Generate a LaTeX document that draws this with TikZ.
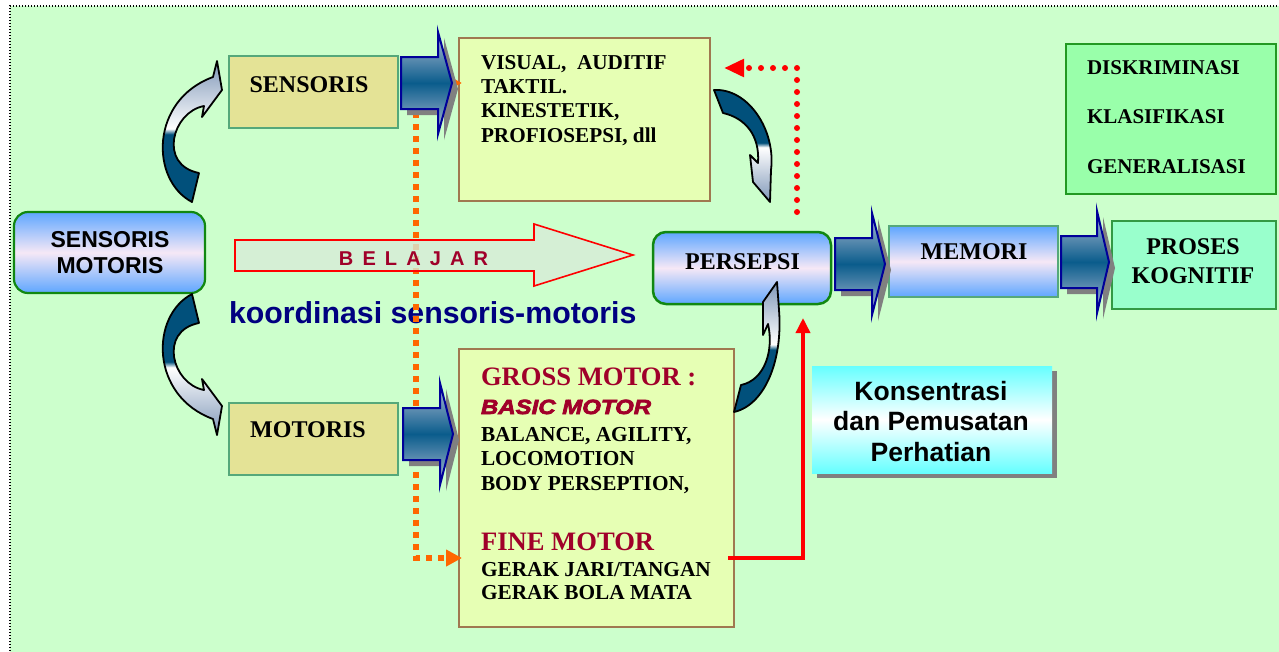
\documentclass[tikz,border=0pt]{standalone}
\usepackage{fontspec}
\setmainfont{Liberation Serif}
\setsansfont{Liberation Sans}
\newfontfamily\blkfont{Liberation Sans}[BoldItalicFeatures={FakeBold=3.5,FakeStretch=1.17}]
\usetikzlibrary{arrows.meta,calc}

\definecolor{bgc}{HTML}{CCFFCC}
\definecolor{khakif}{HTML}{E4E396}
\definecolor{tealgr}{HTML}{55A87A}
\definecolor{yelf}{HTML}{E6FFB4}
\definecolor{brownb}{HTML}{A07850}
\definecolor{diskf}{HTML}{99FFAA}
\definecolor{diskb}{HTML}{229922}
\definecolor{prosf}{HTML}{99FFCC}
\definecolor{prosb}{HTML}{339944}
\definecolor{dgreen}{HTML}{118811}
\definecolor{bluebx}{HTML}{5EA6FF}
\definecolor{pinkw}{HTML}{F6E8F6}
\definecolor{stlc}{HTML}{B4C0D6}
\definecolor{tealdk}{HTML}{0A5C8C}
\definecolor{navyb}{HTML}{000099}
\definecolor{shadc}{HTML}{808080}
\definecolor{darkc}{HTML}{01507B}
\definecolor{steelc}{HTML}{7F97B8}
\definecolor{dred}{HTML}{A0002A}
\definecolor{navyt}{HTML}{000080}
\definecolor{orangec}{HTML}{FF6600}
\definecolor{cyanb}{HTML}{66FFFF}
\definecolor{belf}{HTML}{D8ECD8}

\pgfdeclareverticalshading{cvsh}{100bp}{color(0bp)=(steelc); color(25bp)=(steelc); color(49bp)=(white); color(51bp)=(darkc); color(100bp)=(darkc)}

\newcommand\lnl[1]{\begin{tabular}[t]{@{}l@{}}#1\end{tabular}}
\newcommand\lnc[1]{\begin{tabular}[t]{@{}c@{}}#1\end{tabular}}
\newcommand\lsp{\hspace{9.1pt}}

\newcommand\blkarr[4]{%
 \begin{scope}[shift={(6,6)}]
  \fill[shadc] (#1,{#4-26}) -- (#2,{#4-26}) -- (#2,{#4-51}) -- (#3,#4) -- (#2,{#4+51}) -- (#2,{#4+26}) -- (#1,{#4+26}) -- cycle;
 \end{scope}
 \shadedraw[barrow] (#1,{#4-26}) -- (#2,{#4-26}) -- (#2,{#4-51}) -- (#3,#4) -- (#2,{#4+51}) -- (#2,{#4+26}) -- (#1,{#4+26}) -- cycle;}

\tikzset{
 every node/.style={inner sep=0pt, outer sep=0pt},
 sbox/.style={draw=tealgr, line width=2pt, fill=khakif},
 ybox/.style={draw=brownb, line width=2pt, fill=yelf},
 bgrad/.style={top color=bluebx, bottom color=bluebx, middle color=pinkw},
 barrow/.style={top color=stlc, bottom color=stlc, middle color=tealdk, draw=navyb, line width=2pt, line join=miter},
 curv/.style={shading=cvsh, draw=black, line width=1.8pt, line join=round},
 serb/.style={font=\fontsize{24}{28}\selectfont\bfseries, text=black},
 lst/.style={font=\fontsize{21.2}{24.4}\selectfont\bfseries, text=black},
 redtitle/.style={font=\fontsize{26.6}{30}\selectfont\bfseries, text=dred},
 orgdash/.style={draw=orangec, line width=6pt, dash pattern=on 6pt off 6pt},
 reddot/.style={draw=red, line width=6pt, line cap=round, dash pattern=on 0pt off 12pt},
}

\begin{document}
\begin{tikzpicture}[x=1pt,y=-1pt]
\useasboundingbox (0,0) rectangle (1279,651);
\clip (0,0) rectangle (1279,651);
\fill[white] (0,0) rectangle (1279,651);
\fill[bgc] (10,6) rectangle (1290,660);
\draw[black, line width=1.3pt, dash pattern=on 1.3pt off 1.7pt] (10,660) -- (10,6) -- (1290,6);

% boxes
\node[draw=dgreen, line width=2.2pt, rounded corners=14pt, bgrad, minimum width=191pt, minimum height=81pt] (sm) at (109.5,252.5) {};
\node[sbox, minimum width=169pt, minimum height=72pt] (sens) at (313.5,92) {};
\node[sbox, minimum width=169pt, minimum height=72pt] (mot) at (313.5,439) {};
\node[ybox, minimum width=251pt, minimum height=163pt] (visual) at (584.5,119.5) {};
\node[ybox, minimum width=275pt, minimum height=278pt] (gross) at (596.5,488) {};
\node[draw=dgreen, line width=2.5pt, rounded corners=13pt, bgrad, minimum width=178pt, minimum height=72pt] (pers) at (742,268) {};
\node[draw=tealgr, line width=2pt, bgrad, minimum width=169pt, minimum height=71pt] (mem) at (973.5,261.5) {};
\node[draw=prosb, line width=2.5pt, fill=prosf, minimum width=164pt, minimum height=88pt] (pros) at (1194,265) {};
\node[draw=diskb, line width=2.5pt, fill=diskf, minimum width=210pt, minimum height=150pt] (disk) at (1171,119) {};
\fill[shadc] (817,371) rectangle (1057,478);
\node[top color=cyanb, bottom color=cyanb, middle color=white, minimum width=240pt, minimum height=107pt] (kons) at (932,419.5) {};

% koordinasi text
\node[anchor=base west, font=\sffamily\bfseries\fontsize{30.3}{34}\selectfont, text=navyt] (koord) at (229,323) {koordinasi sensoris-motoris};

% orange dotted connector
\coordinate (otop) at (462,83);
\coordinate (obot) at (462,558);
\draw[orgdash, {Triangle[width=16pt,length=16pt]}-{Triangle[width=16pt,length=16pt]}] (otop) -- (416,83) -- (416,558) -- (obot);

% BELAJAR arrow
\path[draw=red, line width=1.6pt, fill=belf, fill opacity=0.8] (235,240) -- (534,240) -- (534,224) -- (633,255) -- (534,286) -- (534,271) -- (235,271) -- cycle;
\node[anchor=base, font=\sffamily\bfseries\fontsize{20}{24}\selectfont, text=dred] (bel) at (413.5,265) {B\lsp E\lsp L\lsp A\lsp J\lsp A\lsp R};

% block arrows
\blkarr{401}{438}{452}{83}
\blkarr{403}{440}{453}{434}
\blkarr{835}{872}{885}{264}
\blkarr{1061}{1097}{1109}{262}

% curved arrows
\shadedraw[curv, shading angle=180] (192,202) .. controls (150,180) and (150,100) .. (213,77) -- (217,61) -- (222,90) -- (202,117) -- (204,106) .. controls (172,112) and (158,165) .. (199,173) -- cycle;
\shadedraw[curv] (192,294) .. controls (150,316) and (150,396) .. (213,419) -- (217,435) -- (222,406) -- (202,379) -- (204,390) .. controls (172,384) and (158,331) .. (199,323) -- cycle;
\shadedraw[curv] (714,90) .. controls (748,88) and (776,130) .. (771,170) -- (770,202) -- (753,182) -- (750,155) -- (758,163) .. controls (760,135) and (745,118) .. (723,113) -- cycle;
\shadedraw[curv, shading angle=180] (734,412) .. controls (765,405) and (783,360) .. (779,310) -- (777,282) -- (763,302) -- (763,335) -- (768,324) .. controls (774,350) and (765,380) .. (741,385) -- cycle;

% red dotted connector
\coordinate (rdtop) at (724,68);
\draw[reddot, -{Triangle[width=17pt,length=20pt]}] ($(pers.north)+(55,-20)$) -- (797,68) -- (rdtop);

% red connector
\coordinate (fmr) at (728,558);
\draw[red, line width=3.5pt, -{Triangle[width=14pt,length=15pt]}] (fmr) -- (803,558) -- ($(pers.south)+(61,14)$);

% texts
\node[anchor=base, font=\sffamily\bfseries\fontsize{23}{26}\selectfont] (tsm) at (110,247) {\lnc{SENSORIS\\MOTORIS}};
\node[serb, anchor=base] (tsens) at (309,92) {SENSORIS};
\node[serb, anchor=base] (tmot) at (308,437) {MOTORIS};
\node[serb, anchor=base] (tpers) at (742.5,269) {PERSEPSI};
\node[serb, anchor=base] (tmem) at (974,259) {MEMORI};
\node[anchor=base, font=\fontsize{24}{29}\selectfont\bfseries] (tpros) at (1193,254) {\lnc{PROSES\\KOGNITIF}};
\node[anchor=base west, font=\fontsize{21}{49.5}\selectfont\bfseries] (tdisk) at (1087,74) {\lnl{DISKRIMINASI\\KLASIFIKASI\\GENERALISASI}};
\node[lst, anchor=base west] (tvis) at (481,69) {\lnl{VISUAL,\ \ AUDITIF\\TAKTIL.\\KINESTETIK,\\PROFIOSEPSI, dll}};
\node[redtitle, anchor=base west] (tgross) at (481,385) {GROSS MOTOR :};
\node[anchor=base west, font=\blkfont\bfseries\itshape\fontsize{20.5}{24}\selectfont, text=dred] (tbasic) at (481,414) {BASIC MOTOR};
\node[anchor=base west, font=\fontsize{21.3}{24.5}\selectfont\bfseries] (tbal) at (481,441) {\lnl{BALANCE, AGILITY,\\LOCOMOTION\\BODY PERSEPTION,}};
\node[redtitle, anchor=base west] (tfine) at (481,550) {FINE MOTOR};
\node[anchor=base west, font=\fontsize{21.3}{23.5}\selectfont\bfseries] (tgerak) at (481,576) {\lnl{GERAK JARI/TANGAN\\GERAK BOLA MATA}};
\node[anchor=base, font=\sffamily\bfseries\fontsize{26.5}{30.5}\selectfont] (tkons) at (931,400) {\lnc{Konsentrasi\\dan Pemusatan\\Perhatian}};
\end{tikzpicture}
\end{document}
